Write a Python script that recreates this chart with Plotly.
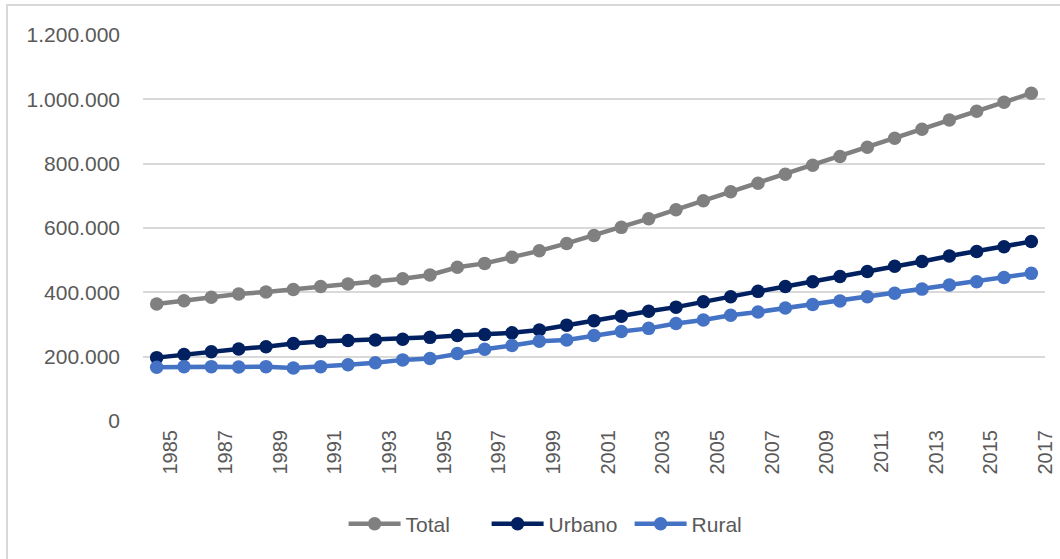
import plotly.graph_objects as go

years = [str(y) for y in range(1985, 2018)]
total = [364000, 374000, 385000, 395000, 401000, 409000, 418000, 426000, 435000, 442000,
         454000, 478000, 490000, 509000, 529000, 552000, 577000, 602000, 629000, 657000,
         685000, 713000, 739000, 767000, 795000, 822000, 851000, 879000, 907000, 936000,
         963000, 991000, 1019000]
urbano = [197000, 207000, 215000, 224000, 231000, 241000, 247000, 250000, 252000, 254000,
          260000, 266000, 269000, 274000, 283000, 298000, 312000, 326000, 341000, 354000,
          371000, 386000, 403000, 418000, 433000, 449000, 465000, 481000, 496000, 513000,
          527000, 542000, 558000]
rural = [167000, 169000, 169000, 168000, 169000, 165000, 169000, 175000, 181000, 190000,
         194000, 210000, 223000, 235000, 248000, 252000, 266000, 278000, 288000, 303000,
         314000, 329000, 339000, 351000, 362000, 373000, 386000, 397000, 410000, 423000,
         433000, 446000, 459000]
tick_years = years[::2]
y_ticks = [0, 200000, 400000, 600000, 800000, 1000000, 1200000]

series = [("Total", total, "#808080"), ("Urbano", urbano, "#002060"), ("Rural", rural, "#4472C4")]

fig = go.Figure()
for name, vals, col in series:
    fig.add_trace(go.Scatter(x=years, y=vals, name=name, mode="lines+markers",
                             line=dict(color=col, width=4.5),
                             marker=dict(color=col, size=13.5)))

font_fam = "Liberation Sans, Arial, sans-serif"
fig.update_layout(
    width=1060, height=559,
    margin=dict(l=143, r=15, t=35, b=138, autoexpand=False),
    paper_bgcolor="white", plot_bgcolor="white",
    separators=",.",
    font=dict(family=font_fam, size=20, color="#595959"),
    showlegend=True,
    legend=dict(orientation="h", x=0.2224, xanchor="left", y=-0.267, yanchor="middle",
                font=dict(size=21, color="#595959"), itemwidth=52,
                entrywidth=76, entrywidthmode="pixels",
                bgcolor="rgba(0,0,0,0)", traceorder="normal"),
    xaxis=dict(type="category", tickmode="array", tickvals=tick_years, ticktext=tick_years,
               range=[-0.5, len(years) - 0.5], automargin=False,
               tickangle=-90, showgrid=False, showline=False, zeroline=False, ticks="",
               ticklabelshift=14, ticklabelstandoff=4, fixedrange=True,
               tickfont=dict(size=20)),
    yaxis=dict(range=[0, 1200000], tickmode="array", tickvals=y_ticks, tickformat=",d",
               automargin=False, tickfont=dict(size=21),
               showgrid=True, gridcolor="#D9D9D9", gridwidth=1.5, zeroline=False,
               showline=False, ticks="", ticklabelstandoff=22),
    shapes=[dict(type="rect", xref="paper", yref="paper",
                 x0=(7 - 143) / 902, x1=(1075 - 143) / 902,
                 y0=(421 - 575) / 386, y1=(421 - 5) / 386,
                 line=dict(color="#D9D9D9", width=2), fillcolor="rgba(0,0,0,0)", layer="below")],
)
fig.write_html("out.html", config={"displayModeBar": False},
               post_script="document.body.style.margin='0';document.body.style.overflow='hidden';")
